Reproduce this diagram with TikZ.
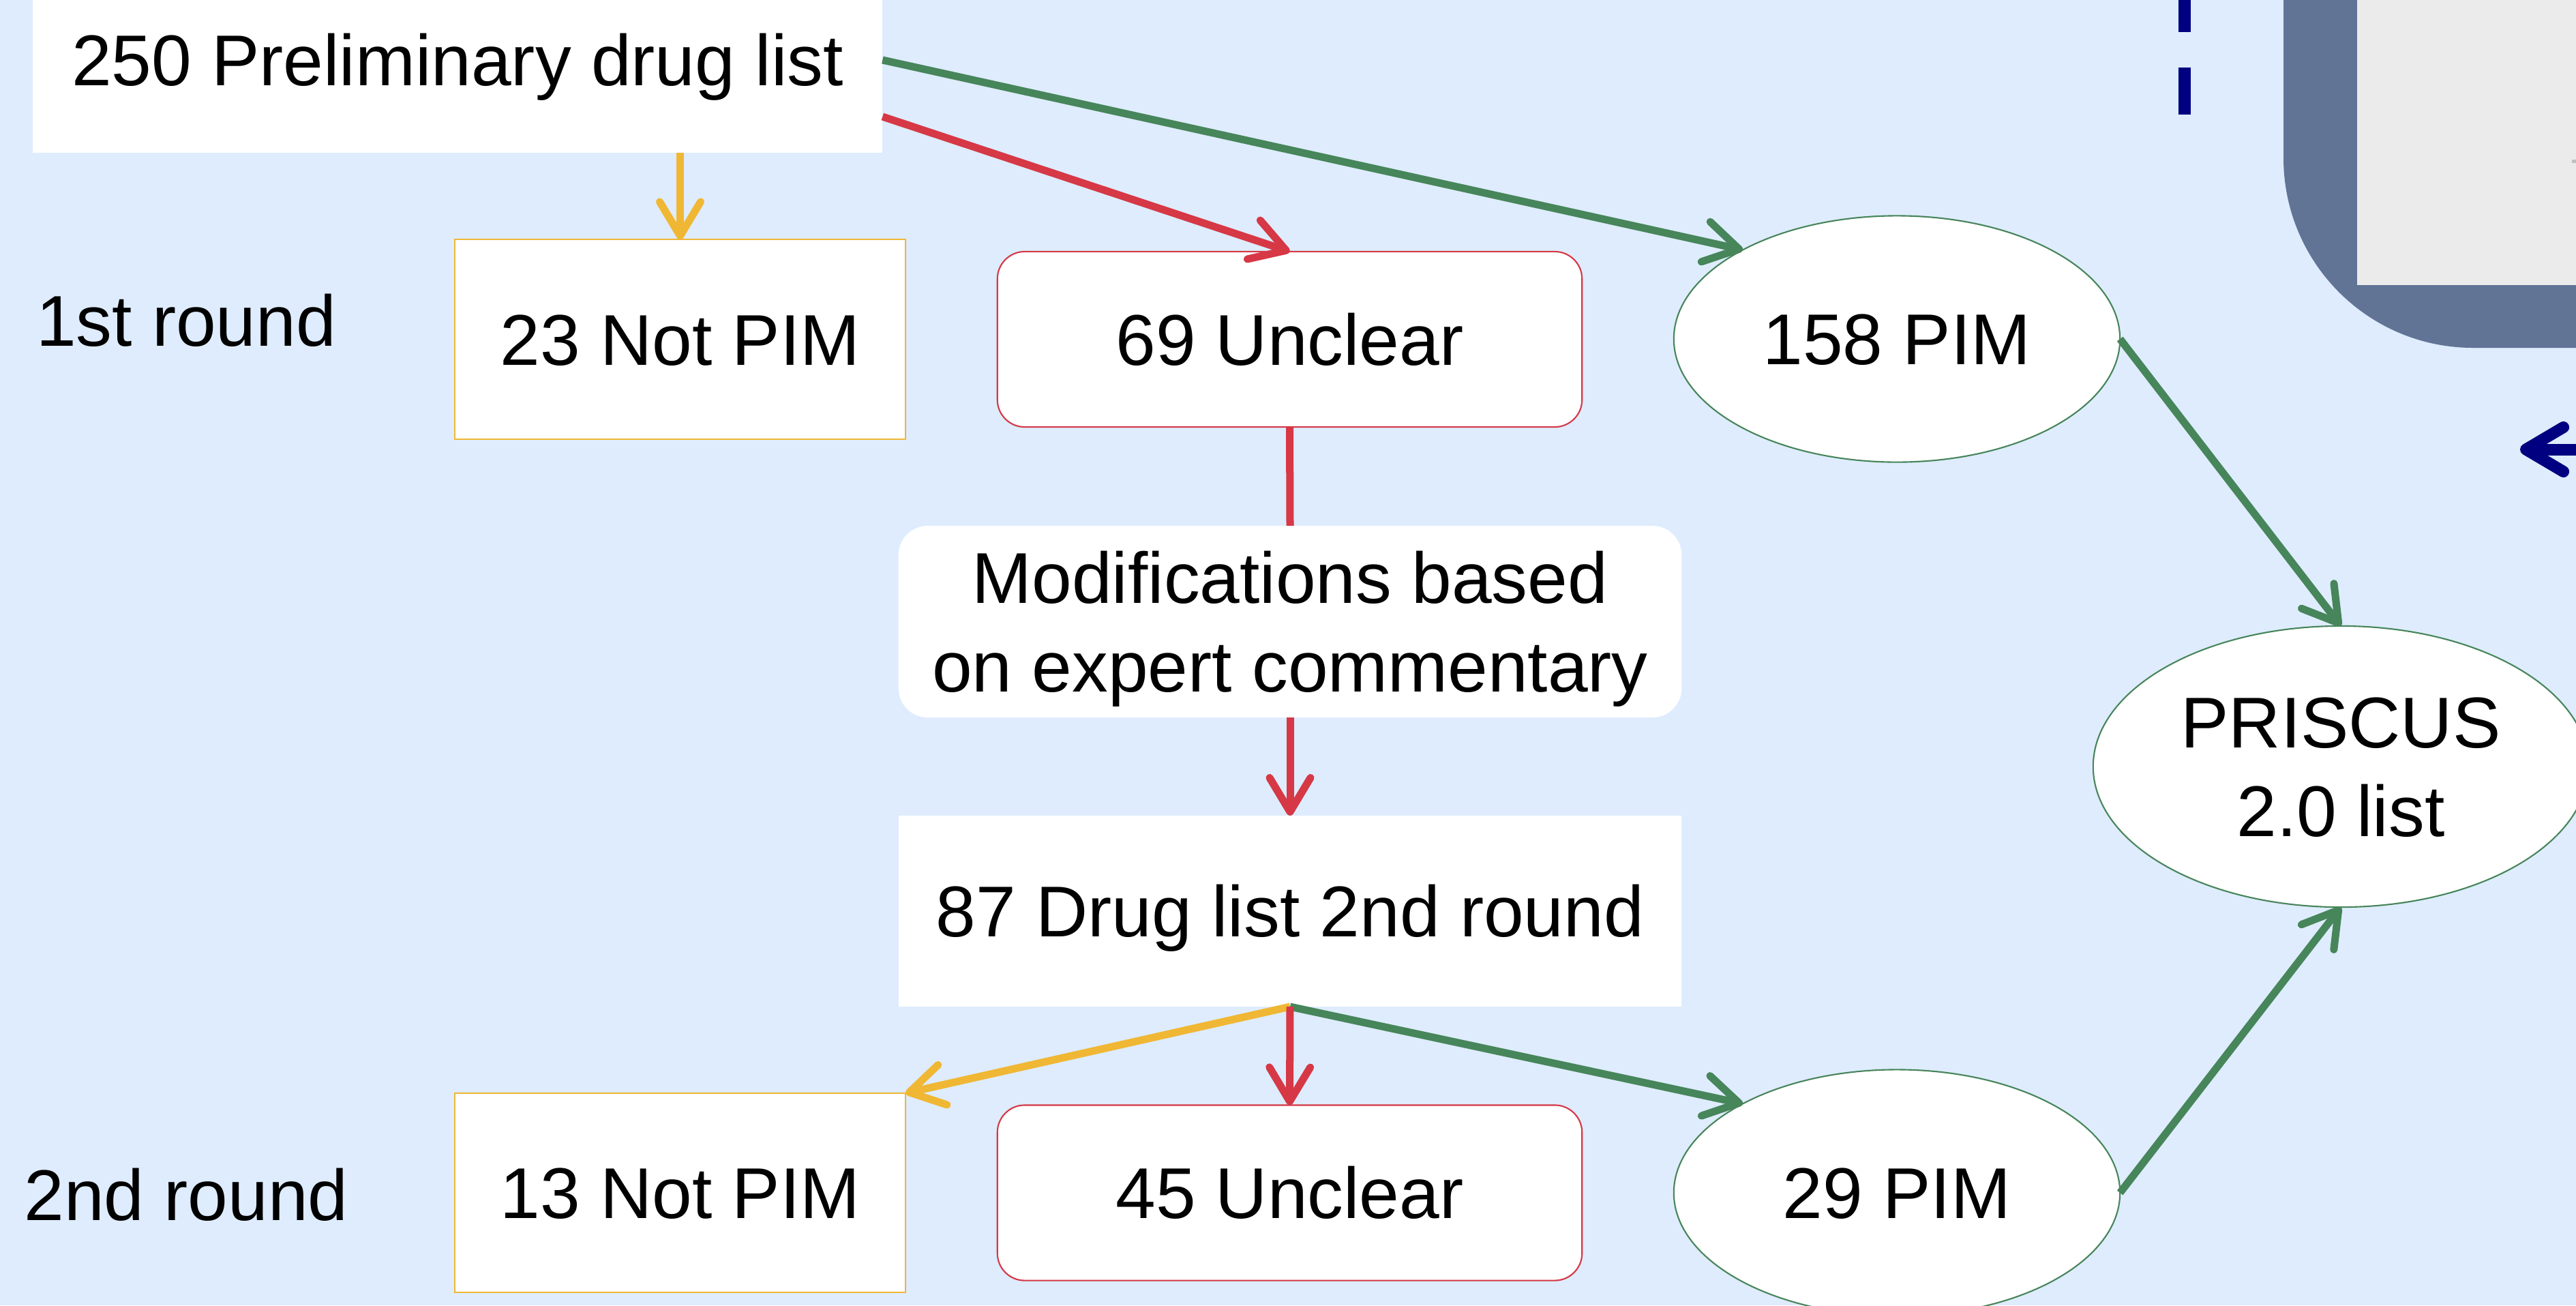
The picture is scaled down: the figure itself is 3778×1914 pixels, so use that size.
\documentclass[tikz,border=0pt]{standalone}
\usepackage{fontspec}
\setmainfont{Liberation Sans}
\usetikzlibrary{arrows.meta,shapes.geometric}
\definecolor{bgblue}{HTML}{DEECFD}
\definecolor{pimyellow}{HTML}{F0B734}
\definecolor{pimred}{HTML}{D63846}
\definecolor{pimgreen}{HTML}{47855A}
\definecolor{slate}{HTML}{617496}
\definecolor{panelgray}{HTML}{EBEBEB}
\definecolor{navyblue}{HTML}{000080}
\begin{document}
\begin{tikzpicture}[x=0.01cm,y=-0.01cm,
  every node/.style={font=\fontsize{30}{37}\selectfont, inner sep=0pt, outer sep=0pt},
  oneline/.style={text height=21.5pt, text depth=0pt},
  twoline/.style={align=center, text height=58.5pt, text depth=0pt},
  whitebox/.style={rectangle, fill=white, minimum width=11.48cm},
  notpim/.style={rectangle, fill=white, draw=pimyellow, line width=0.6pt, minimum width=6.61cm, minimum height=2.92cm},
  unclear/.style={rectangle, rounded corners=0.4cm, fill=white, draw=pimred, line width=0.6pt, minimum width=8.57cm, minimum height=2.57cm},
  pim/.style={ellipse, fill=white, draw=pimgreen, line width=0.6pt, minimum width=6.54cm, minimum height=3.61cm},
  tipstyle/.style={-{Straight Barb[length=0.5cm,width=0.6cm,round]}},
  gconn/.style={draw=pimgreen, line width=0.11cm, tipstyle},
  rconn/.style={draw=pimred, line width=0.11cm, tipstyle},
  rline/.style={draw=pimred, line width=0.11cm},
  yconn/.style={draw=pimyellow, line width=0.11cm, tipstyle}
]
\useasboundingbox (0,0) rectangle (3778,1914);
\clip (0,0) rectangle (3778,1914);
\fill[bgblue] (0,0) rectangle (3778,1914);

% right panel fragment
\fill[slate, rounded corners=2.78cm] (3349,-700) rectangle (4400,510);
\fill[panelgray] (3457,-700) rectangle (4400,418);
\fill[black!25] (3772,234) rectangle (3778,239);

% dashed navy line and navy arrow
\coordinate (dashBot) at (3204,168);
\coordinate (dashTop) at (3204,-150);
\draw[navyblue, line width=0.18cm, dash pattern=on 0.69cm off 0.52cm] (dashBot) -- (dashTop);
\coordinate (navyS) at (3850,659);
\coordinate (navyE) at (3696,659);
\draw[navyblue, line width=0.17cm, -{Straight Barb[length=0.55cm,width=0.65cm,round]}] (navyS) -- (navyE);

% nodes
\node[whitebox, oneline, minimum width=12.46cm, minimum height=2.72cm] (n250) at (671,88) {250 Preliminary drug list};
\node[oneline] (r1) at (273,470) {1st round};
\node[oneline] (r2) at (273,1752) {2nd round};
\node[notpim, oneline] (np1) at (997.5,497.5) {23 Not PIM};
\node[unclear, oneline] (un1) at (1891.5,497.5) {69 Unclear};
\node[pim, oneline] (pim1) at (2782,497) {158 PIM};
\node[whitebox, twoline, rounded corners=0.43cm, minimum height=2.81cm] (mod) at (1892,911.5) {Modifications based\\on expert commentary};
\node[whitebox, oneline, minimum height=2.80cm] (d87) at (1892,1336) {87 Drug list 2nd round};
\node[notpim, oneline] (np2) at (997.5,1749) {13 Not PIM};
\node[unclear, oneline] (un2) at (1891.5,1749) {45 Unclear};
\node[pim, oneline] (pim2) at (2782,1749) {29 PIM};
\node[pim, twoline, minimum width=7.26cm, minimum height=4.12cm] (pris) at (3433,1124) {PRISCUS\\2.0 list};

% connectors
\draw[gconn] (n250.east) -- (pim1.150);
\draw[rconn] ([yshift=-0.83cm]n250.east) -- (un1.north);
\draw[yconn] (np1.north |- n250.south) -- (np1.north);
\draw[rline] (un1.south) -- (mod.north);
\draw[rconn] (mod.south) -- (d87.north);
\draw[yconn] (d87.south) -- (np2.north east);
\draw[gconn] (d87.south) -- (pim2.150);
\draw[rconn] (d87.south) -- (un2.north);
\draw[gconn] (pim1.east) -- (pris.north);
\draw[gconn] (pim2.east) -- (pris.south);
\end{tikzpicture}
\end{document}
